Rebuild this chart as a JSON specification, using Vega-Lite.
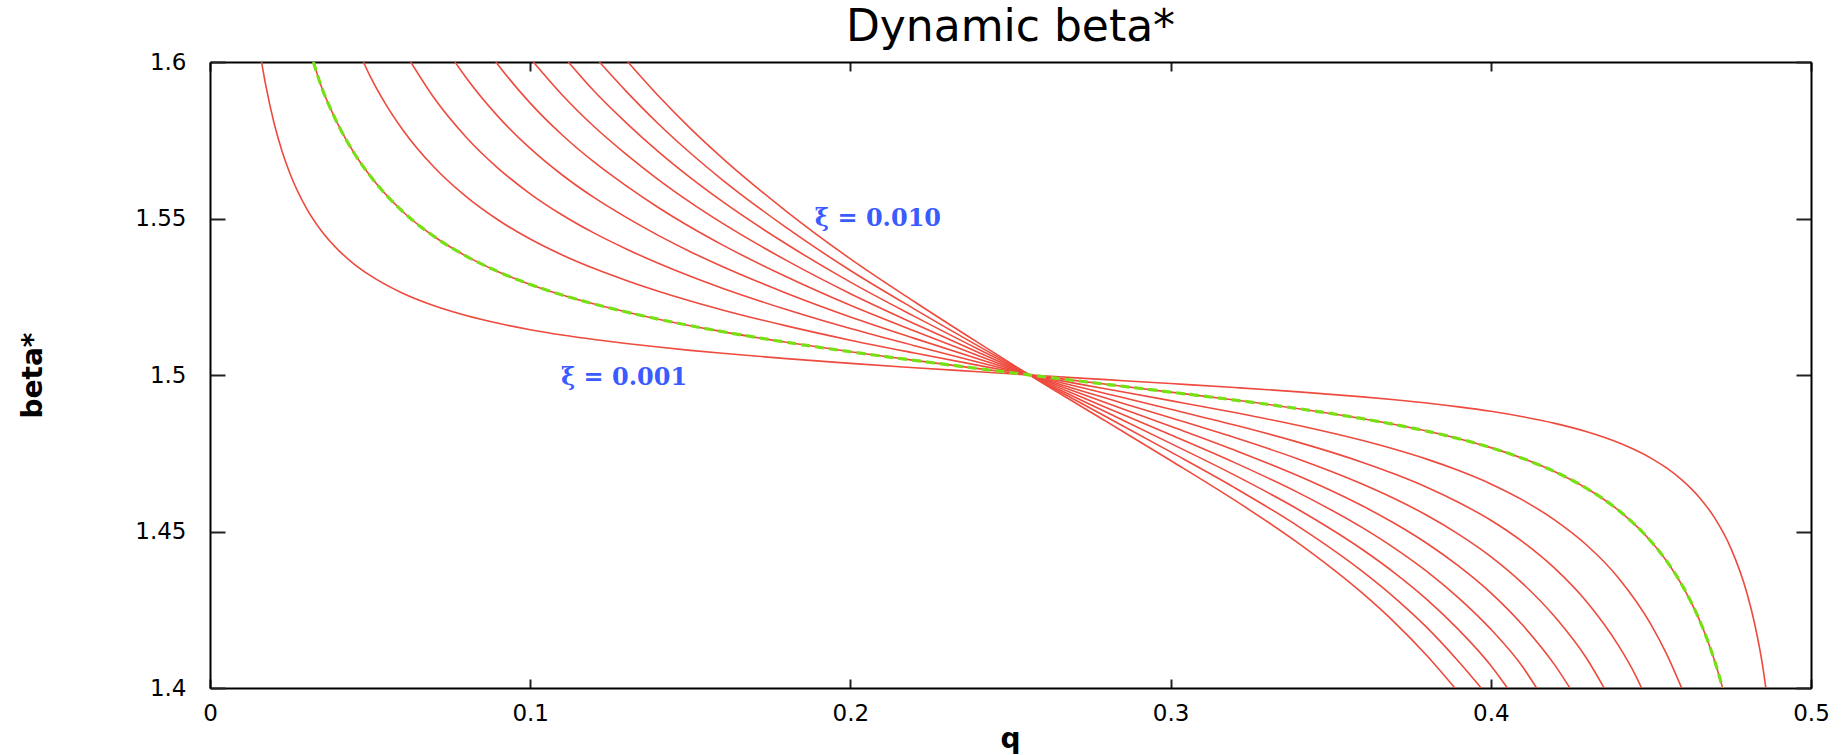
{
"$schema": "https://vega.github.io/schema/vega-lite/v6.json",
"width": 1601, "height": 626,
"autosize": {"type": "none"},
"padding": {"left": 210, "top": 62, "right": 36, "bottom": 67},
"background": "white",
"view": {"stroke": null},
"datasets": {
"labels": [{"q": 0.1889, "b": 1.5498, "t": "ξ = 0.010"}, {"q": 0.1096, "b": 1.499, "t": "ξ = 0.001"}],
"curves": [
{"xi":0.001,"q":0.0161,"b":1.6},{"xi":0.001,"q":0.0175,"b":1.59211},{"xi":0.001,"q":0.02,"b":1.58052},{"xi":0.001,"q":0.0225,"b":1.57151},{"xi":0.001,"q":0.025,"b":1.56429},{"xi":0.001,"q":0.03,"b":1.55346},{"xi":0.001,"q":0.035,"b":1.54576},{"xi":0.001,"q":0.04,"b":1.53999},{"xi":0.001,"q":0.045,"b":1.53546},{"xi":0.001,"q":0.05,"b":1.53182},{"xi":0.001,"q":0.06,"b":1.5262},{"xi":0.001,"q":0.07,"b":1.52212},{"xi":0.001,"q":0.08,"b":1.519},{"xi":0.001,"q":0.09,"b":1.51651},{"xi":0.001,"q":0.1,"b":1.51448},{"xi":0.001,"q":0.11,"b":1.51278},{"xi":0.001,"q":0.12,"b":1.51133},{"xi":0.001,"q":0.13,"b":1.51007},{"xi":0.001,"q":0.14,"b":1.50892},{"xi":0.001,"q":0.15,"b":1.50788},{"xi":0.001,"q":0.16,"b":1.50693},{"xi":0.001,"q":0.18,"b":1.50523},{"xi":0.001,"q":0.2,"b":1.50371},{"xi":0.001,"q":0.22,"b":1.50234},{"xi":0.001,"q":0.24,"b":1.50103},{"xi":0.001,"q":0.26,"b":1.49974},{"xi":0.001,"q":0.28,"b":1.49851},{"xi":0.001,"q":0.3,"b":1.49727},{"xi":0.001,"q":0.32,"b":1.496},{"xi":0.001,"q":0.34,"b":1.49462},{"xi":0.001,"q":0.36,"b":1.49302},{"xi":0.001,"q":0.37,"b":1.49209},{"xi":0.001,"q":0.38,"b":1.49104},{"xi":0.001,"q":0.39,"b":1.48982},{"xi":0.001,"q":0.4,"b":1.4884},{"xi":0.001,"q":0.41,"b":1.48667},{"xi":0.001,"q":0.42,"b":1.48455},{"xi":0.001,"q":0.43,"b":1.48187},{"xi":0.001,"q":0.44,"b":1.47834},{"xi":0.001,"q":0.45,"b":1.47345},{"xi":0.001,"q":0.455,"b":1.47022},{"xi":0.001,"q":0.46,"b":1.4662},{"xi":0.001,"q":0.465,"b":1.46105},{"xi":0.001,"q":0.47,"b":1.45419},{"xi":0.001,"q":0.475,"b":1.44461},{"xi":0.001,"q":0.48,"b":1.43027},{"xi":0.001,"q":0.4825,"b":1.42004},{"xi":0.001,"q":0.485,"b":1.40641},{"xi":0.001,"q":0.4859,"b":1.4},
{"xi":0.002,"q":0.0323,"b":1.6},{"xi":0.002,"q":0.035,"b":1.59152},{"xi":0.002,"q":0.0375,"b":1.58542},{"xi":0.002,"q":0.04,"b":1.57998},{"xi":0.002,"q":0.045,"b":1.57092},{"xi":0.002,"q":0.05,"b":1.56364},{"xi":0.002,"q":0.06,"b":1.5524},{"xi":0.002,"q":0.07,"b":1.54424},{"xi":0.002,"q":0.08,"b":1.53799},{"xi":0.002,"q":0.09,"b":1.53302},{"xi":0.002,"q":0.1,"b":1.52895},{"xi":0.002,"q":0.11,"b":1.52556},{"xi":0.002,"q":0.12,"b":1.52266},{"xi":0.002,"q":0.13,"b":1.52014},{"xi":0.002,"q":0.14,"b":1.51784},{"xi":0.002,"q":0.15,"b":1.51576},{"xi":0.002,"q":0.16,"b":1.51386},{"xi":0.002,"q":0.18,"b":1.51046},{"xi":0.002,"q":0.2,"b":1.50742},{"xi":0.002,"q":0.22,"b":1.50468},{"xi":0.002,"q":0.24,"b":1.50205},{"xi":0.002,"q":0.26,"b":1.49949},{"xi":0.002,"q":0.28,"b":1.49702},{"xi":0.002,"q":0.3,"b":1.49454},{"xi":0.002,"q":0.32,"b":1.492},{"xi":0.002,"q":0.34,"b":1.48924},{"xi":0.002,"q":0.36,"b":1.48604},{"xi":0.002,"q":0.37,"b":1.48418},{"xi":0.002,"q":0.38,"b":1.48208},{"xi":0.002,"q":0.39,"b":1.47964},{"xi":0.002,"q":0.4,"b":1.4768},{"xi":0.002,"q":0.41,"b":1.47334},{"xi":0.002,"q":0.42,"b":1.4691},{"xi":0.002,"q":0.43,"b":1.46374},{"xi":0.002,"q":0.44,"b":1.45668},{"xi":0.002,"q":0.45,"b":1.4469},{"xi":0.002,"q":0.455,"b":1.44044},{"xi":0.002,"q":0.46,"b":1.4324},{"xi":0.002,"q":0.465,"b":1.4221},{"xi":0.002,"q":0.4675,"b":1.41576},{"xi":0.002,"q":0.47,"b":1.40838},{"xi":0.002,"q":0.4724,"b":1.4},
{"xi":0.003,"q":0.0479,"b":1.6},{"xi":0.003,"q":0.05,"b":1.59546},{"xi":0.003,"q":0.055,"b":1.58628},{"xi":0.003,"q":0.06,"b":1.5786},{"xi":0.003,"q":0.07,"b":1.56636},{"xi":0.003,"q":0.08,"b":1.55699},{"xi":0.003,"q":0.09,"b":1.54953},{"xi":0.003,"q":0.1,"b":1.54343},{"xi":0.003,"q":0.11,"b":1.53834},{"xi":0.003,"q":0.12,"b":1.53399},{"xi":0.003,"q":0.13,"b":1.53021},{"xi":0.003,"q":0.14,"b":1.52676},{"xi":0.003,"q":0.15,"b":1.52364},{"xi":0.003,"q":0.16,"b":1.52079},{"xi":0.003,"q":0.18,"b":1.51569},{"xi":0.003,"q":0.2,"b":1.51113},{"xi":0.003,"q":0.22,"b":1.50702},{"xi":0.003,"q":0.24,"b":1.50308},{"xi":0.003,"q":0.26,"b":1.49923},{"xi":0.003,"q":0.28,"b":1.49553},{"xi":0.003,"q":0.3,"b":1.49181},{"xi":0.003,"q":0.32,"b":1.488},{"xi":0.003,"q":0.34,"b":1.48386},{"xi":0.003,"q":0.36,"b":1.47906},{"xi":0.003,"q":0.37,"b":1.47627},{"xi":0.003,"q":0.38,"b":1.47312},{"xi":0.003,"q":0.39,"b":1.46946},{"xi":0.003,"q":0.4,"b":1.4652},{"xi":0.003,"q":0.41,"b":1.46001},{"xi":0.003,"q":0.42,"b":1.45365},{"xi":0.003,"q":0.43,"b":1.44561},{"xi":0.003,"q":0.44,"b":1.43502},{"xi":0.003,"q":0.45,"b":1.42035},{"xi":0.003,"q":0.455,"b":1.41066},{"xi":0.003,"q":0.4596,"b":1.4},
{"xi":0.004,"q":0.0627,"b":1.6},{"xi":0.004,"q":0.07,"b":1.58848},{"xi":0.004,"q":0.08,"b":1.57598},{"xi":0.004,"q":0.09,"b":1.56604},{"xi":0.004,"q":0.1,"b":1.5579},{"xi":0.004,"q":0.11,"b":1.55112},{"xi":0.004,"q":0.12,"b":1.54532},{"xi":0.004,"q":0.13,"b":1.54028},{"xi":0.004,"q":0.14,"b":1.53568},{"xi":0.004,"q":0.15,"b":1.53152},{"xi":0.004,"q":0.16,"b":1.52772},{"xi":0.004,"q":0.18,"b":1.52092},{"xi":0.004,"q":0.2,"b":1.51484},{"xi":0.004,"q":0.22,"b":1.50936},{"xi":0.004,"q":0.24,"b":1.5041},{"xi":0.004,"q":0.26,"b":1.49897},{"xi":0.004,"q":0.28,"b":1.49404},{"xi":0.004,"q":0.3,"b":1.48908},{"xi":0.004,"q":0.32,"b":1.484},{"xi":0.004,"q":0.34,"b":1.47848},{"xi":0.004,"q":0.36,"b":1.47208},{"xi":0.004,"q":0.37,"b":1.46836},{"xi":0.004,"q":0.38,"b":1.46416},{"xi":0.004,"q":0.39,"b":1.45928},{"xi":0.004,"q":0.4,"b":1.4536},{"xi":0.004,"q":0.41,"b":1.44668},{"xi":0.004,"q":0.42,"b":1.4382},{"xi":0.004,"q":0.43,"b":1.42748},{"xi":0.004,"q":0.44,"b":1.41336},{"xi":0.004,"q":0.445,"b":1.40444},{"xi":0.004,"q":0.4471,"b":1.4},
{"xi":0.005,"q":0.0765,"b":1.6},{"xi":0.005,"q":0.08,"b":1.59498},{"xi":0.005,"q":0.09,"b":1.58255},{"xi":0.005,"q":0.1,"b":1.57238},{"xi":0.005,"q":0.11,"b":1.5639},{"xi":0.005,"q":0.12,"b":1.55665},{"xi":0.005,"q":0.13,"b":1.55035},{"xi":0.005,"q":0.14,"b":1.5446},{"xi":0.005,"q":0.15,"b":1.5394},{"xi":0.005,"q":0.16,"b":1.53465},{"xi":0.005,"q":0.18,"b":1.52615},{"xi":0.005,"q":0.2,"b":1.51855},{"xi":0.005,"q":0.22,"b":1.5117},{"xi":0.005,"q":0.24,"b":1.50513},{"xi":0.005,"q":0.26,"b":1.49872},{"xi":0.005,"q":0.28,"b":1.49255},{"xi":0.005,"q":0.3,"b":1.48635},{"xi":0.005,"q":0.32,"b":1.48},{"xi":0.005,"q":0.34,"b":1.4731},{"xi":0.005,"q":0.36,"b":1.4651},{"xi":0.005,"q":0.37,"b":1.46045},{"xi":0.005,"q":0.38,"b":1.4552},{"xi":0.005,"q":0.39,"b":1.4491},{"xi":0.005,"q":0.4,"b":1.442},{"xi":0.005,"q":0.41,"b":1.43335},{"xi":0.005,"q":0.42,"b":1.42275},{"xi":0.005,"q":0.43,"b":1.40935},{"xi":0.005,"q":0.4354,"b":1.4},
{"xi":0.006,"q":0.0893,"b":1.6},{"xi":0.006,"q":0.09,"b":1.59906},{"xi":0.006,"q":0.1,"b":1.58685},{"xi":0.006,"q":0.11,"b":1.57668},{"xi":0.006,"q":0.12,"b":1.56798},{"xi":0.006,"q":0.13,"b":1.56042},{"xi":0.006,"q":0.14,"b":1.55352},{"xi":0.006,"q":0.15,"b":1.54728},{"xi":0.006,"q":0.16,"b":1.54158},{"xi":0.006,"q":0.18,"b":1.53138},{"xi":0.006,"q":0.2,"b":1.52226},{"xi":0.006,"q":0.22,"b":1.51404},{"xi":0.006,"q":0.24,"b":1.50615},{"xi":0.006,"q":0.26,"b":1.49846},{"xi":0.006,"q":0.28,"b":1.49106},{"xi":0.006,"q":0.3,"b":1.48362},{"xi":0.006,"q":0.32,"b":1.476},{"xi":0.006,"q":0.34,"b":1.46772},{"xi":0.006,"q":0.36,"b":1.45812},{"xi":0.006,"q":0.37,"b":1.45254},{"xi":0.006,"q":0.38,"b":1.44624},{"xi":0.006,"q":0.39,"b":1.43892},{"xi":0.006,"q":0.4,"b":1.4304},{"xi":0.006,"q":0.41,"b":1.42002},{"xi":0.006,"q":0.42,"b":1.4073},{"xi":0.006,"q":0.4247,"b":1.4},
{"xi":0.007,"q":0.101,"b":1.6},{"xi":0.007,"q":0.11,"b":1.58946},{"xi":0.007,"q":0.12,"b":1.57931},{"xi":0.007,"q":0.13,"b":1.57049},{"xi":0.007,"q":0.14,"b":1.56244},{"xi":0.007,"q":0.15,"b":1.55516},{"xi":0.007,"q":0.16,"b":1.54851},{"xi":0.007,"q":0.18,"b":1.53661},{"xi":0.007,"q":0.2,"b":1.52597},{"xi":0.007,"q":0.22,"b":1.51638},{"xi":0.007,"q":0.24,"b":1.50718},{"xi":0.007,"q":0.26,"b":1.4982},{"xi":0.007,"q":0.28,"b":1.48957},{"xi":0.007,"q":0.3,"b":1.48089},{"xi":0.007,"q":0.32,"b":1.472},{"xi":0.007,"q":0.34,"b":1.46234},{"xi":0.007,"q":0.36,"b":1.45114},{"xi":0.007,"q":0.37,"b":1.44463},{"xi":0.007,"q":0.38,"b":1.43728},{"xi":0.007,"q":0.39,"b":1.42874},{"xi":0.007,"q":0.4,"b":1.4188},{"xi":0.007,"q":0.41,"b":1.40669},{"xi":0.007,"q":0.4143,"b":1.4},
{"xi":0.008,"q":0.1119,"b":1.6},{"xi":0.008,"q":0.12,"b":1.59064},{"xi":0.008,"q":0.13,"b":1.58056},{"xi":0.008,"q":0.14,"b":1.57136},{"xi":0.008,"q":0.15,"b":1.56304},{"xi":0.008,"q":0.16,"b":1.55544},{"xi":0.008,"q":0.18,"b":1.54184},{"xi":0.008,"q":0.2,"b":1.52968},{"xi":0.008,"q":0.22,"b":1.51872},{"xi":0.008,"q":0.24,"b":1.5082},{"xi":0.008,"q":0.26,"b":1.49794},{"xi":0.008,"q":0.28,"b":1.48808},{"xi":0.008,"q":0.3,"b":1.47816},{"xi":0.008,"q":0.32,"b":1.468},{"xi":0.008,"q":0.34,"b":1.45696},{"xi":0.008,"q":0.36,"b":1.44416},{"xi":0.008,"q":0.37,"b":1.43672},{"xi":0.008,"q":0.38,"b":1.42832},{"xi":0.008,"q":0.39,"b":1.41856},{"xi":0.008,"q":0.4,"b":1.4072},{"xi":0.008,"q":0.4052,"b":1.4},
{"xi":0.009,"q":0.1216,"b":1.6},{"xi":0.009,"q":0.13,"b":1.59063},{"xi":0.009,"q":0.14,"b":1.58028},{"xi":0.009,"q":0.15,"b":1.57092},{"xi":0.009,"q":0.16,"b":1.56237},{"xi":0.009,"q":0.18,"b":1.54707},{"xi":0.009,"q":0.2,"b":1.53339},{"xi":0.009,"q":0.22,"b":1.52106},{"xi":0.009,"q":0.24,"b":1.50923},{"xi":0.009,"q":0.26,"b":1.49769},{"xi":0.009,"q":0.28,"b":1.48659},{"xi":0.009,"q":0.3,"b":1.47543},{"xi":0.009,"q":0.32,"b":1.464},{"xi":0.009,"q":0.34,"b":1.45158},{"xi":0.009,"q":0.36,"b":1.43718},{"xi":0.009,"q":0.37,"b":1.42881},{"xi":0.009,"q":0.38,"b":1.41936},{"xi":0.009,"q":0.39,"b":1.40838},{"xi":0.009,"q":0.397,"b":1.4},
{"xi":0.01,"q":0.1305,"b":1.6},{"xi":0.01,"q":0.14,"b":1.5892},{"xi":0.01,"q":0.15,"b":1.5788},{"xi":0.01,"q":0.16,"b":1.5693},{"xi":0.01,"q":0.18,"b":1.5523},{"xi":0.01,"q":0.2,"b":1.5371},{"xi":0.01,"q":0.22,"b":1.5234},{"xi":0.01,"q":0.24,"b":1.51025},{"xi":0.01,"q":0.26,"b":1.49743},{"xi":0.01,"q":0.28,"b":1.4851},{"xi":0.01,"q":0.3,"b":1.4727},{"xi":0.01,"q":0.32,"b":1.46},{"xi":0.01,"q":0.34,"b":1.4462},{"xi":0.01,"q":0.36,"b":1.4302},{"xi":0.01,"q":0.37,"b":1.4209},{"xi":0.01,"q":0.38,"b":1.4104},{"xi":0.01,"q":0.3888,"b":1.4}
]},
"layer": [
{"data": {"name": "curves"},
 "mark": {"type": "line", "color": "#ee4a3e", "strokeWidth": 1.6, "clip": true, "interpolate": "monotone"},
 "encoding": {
  "x": {"field": "q", "type": "quantitative", "scale": {"domain": [0, 0.5], "nice": false, "zero": false},
        "axis": {"orient": "bottom", "values": [0, 0.1, 0.2, 0.3, 0.4, 0.5], "format": "~g", "grid": false, "title": "q",
                 "titleFont": "DejaVu Sans", "titleFontSize": 28, "titleFontWeight": "bold", "titleColor": "#000",
                 "titleBaseline": "alphabetic", "titleAlign": "center", "titleX": 800, "titleY": 59,
                 "labelFont": "DejaVu Sans", "labelFontSize": 23, "labelColor": "#000", "labelFlush": false, "labelOverlap": false,
                 "labelBaseline": "top", "labelPadding": 23, "tickSize": -9, "tickWidth": 2, "tickColor": "#222",
                 "domainColor": "#000", "domainWidth": 2}},
  "y": {"field": "b", "type": "quantitative", "scale": {"domain": [1.4, 1.6], "nice": false, "zero": false},
        "axis": {"orient": "left", "values": [1.4, 1.45, 1.5, 1.55, 1.6], "format": "~g", "grid": false, "title": "beta*",
                 "titleFont": "DejaVu Sans", "titleFontSize": 28, "titleFontWeight": "bold", "titleColor": "#000",
                 "titleAngle": -90, "titleAlign": "center", "titleBaseline": "middle", "titleX": -177, "titleY": 313,
                 "labelFont": "DejaVu Sans", "labelFontSize": 23, "labelColor": "#000", "labelFlush": false, "labelOverlap": false,
                 "labelPadding": 39, "tickSize": -15, "tickWidth": 2, "tickColor": "#222",
                 "domainColor": "#000", "domainWidth": 2}},
  "detail": {"field": "xi", "type": "nominal"}
 }},
{"data": {"name": "curves"},
 "transform": [{"filter": "datum.xi == 0.002"}],
 "mark": {"type": "line", "color": "#76e014", "strokeWidth": 3.2, "strokeDash": [9, 5], "clip": true, "interpolate": "monotone"},
 "encoding": {
  "x": {"field": "q", "type": "quantitative",
        "axis": {"orient": "top", "values": [0, 0.1, 0.2, 0.3, 0.4, 0.5], "labels": false, "grid": false,
                 "title": "Dynamic beta*", "titleFont": "DejaVu Sans", "titleFontSize": 44, "titleFontWeight": "normal", "titleColor": "#000",
                 "titleAlign": "center", "titleBaseline": "alphabetic", "titleX": 800, "titleY": -22,
                 "tickSize": -9, "tickWidth": 2, "tickColor": "#222", "domainColor": "#000", "domainWidth": 2}},
  "y": {"field": "b", "type": "quantitative",
        "axis": {"orient": "right", "values": [1.4, 1.45, 1.5, 1.55, 1.6], "labels": false, "title": null, "grid": false,
                 "tickSize": -15, "tickWidth": 2, "tickColor": "#222", "domainColor": "#000", "domainWidth": 2}}
 }},
{"data": {"name": "labels"},
 "mark": {"type": "text", "align": "left", "baseline": "middle", "font": "DejaVu Serif", "fontSize": 24, "fontWeight": "bold", "color": "#3a5cff"},
 "encoding": {
  "x": {"field": "q", "type": "quantitative", "axis": null},
  "y": {"field": "b", "type": "quantitative", "axis": null},
  "text": {"field": "t", "type": "nominal"}
 }}
],
"resolve": {"axis": {"x": "independent", "y": "independent"}}
}
